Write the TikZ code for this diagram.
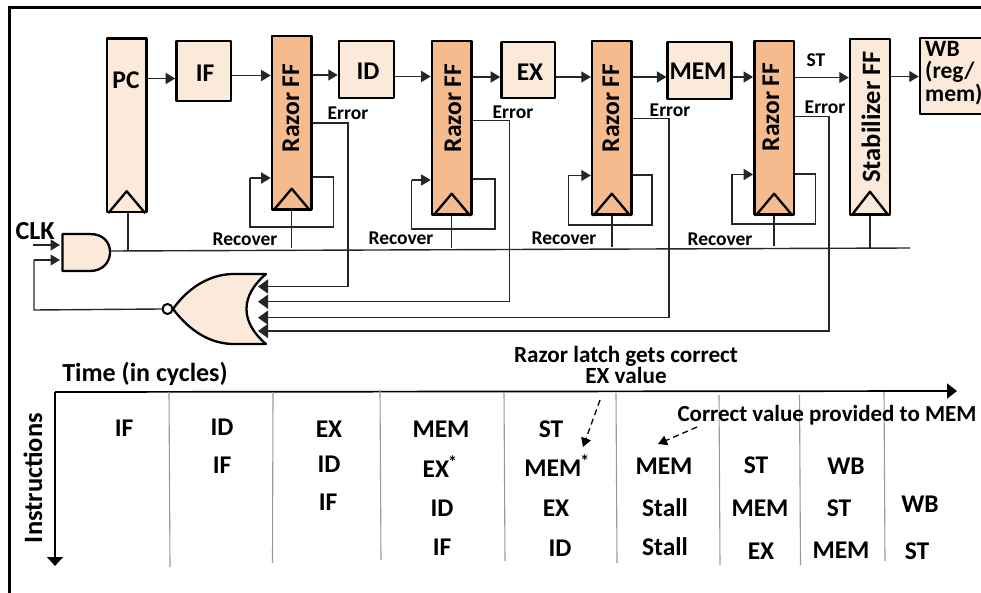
\documentclass[tikz,border=0pt]{standalone}
\usepackage{fontspec}
\setmainfont{Carlito}
\usetikzlibrary{arrows.meta}
\definecolor{lightfill}{HTML}{FBE9D9}
\definecolor{darkfill}{HTML}{F4BC8E}
\definecolor{wirecol}{HTML}{262626}
\definecolor{gridcol}{HTML}{9A9A9A}
\tikzset{
  x=1pt,y=-1pt,
  boxed/.style={draw=black,line width=2.5pt,inner sep=0pt,line join=round},
  stage/.style={boxed,fill=lightfill},
  razor/.style={boxed,fill=darkfill},
  wire/.style={draw=wirecol,line width=1.4pt},
  tipped/.style={wire,-{Triangle[length=9.5pt,width=11pt]}},
  bigtipped/.style={wire,-{Triangle[length=10pt,width=14pt]}},
  bigtext/.style={font=\fontsize{25.5}{30}\selectfont\bfseries,inner sep=0pt,text=black},
  midtext/.style={font=\fontsize{26.5}{31}\selectfont\bfseries,inner sep=0pt,text=black},
  cell/.style={font=\fontsize{25.5}{30}\selectfont\bfseries,inner sep=0pt,text=black},
  smalltext/.style={font=\fontsize{19.5}{23}\selectfont\bfseries,inner sep=0pt,text=black},
  gridline/.style={draw=gridcol,line width=1.1pt},
  tri/.style={draw=black,line width=2.3pt,line join=round},
  gate/.style={draw=black,line width=2.3pt,fill=lightfill,line join=round},
  hint/.style={draw=black,line width=1.3pt,dashed,dash pattern=on 6pt off 4pt,-{Triangle[length=9pt,width=10pt]}},
  axis/.style={draw=black,line width=1.7pt},
}
\newcommand{\clocktri}[2]{\draw[tri] ([xshift=2.5pt]#1.south west) -- ([yshift=#2pt]#1.south) -- ([xshift=-2.5pt]#1.south east);}
\newcommand{\starmark}{\kern-1pt\textsuperscript{*}}
\begin{document}
\begin{tikzpicture}
\useasboundingbox (0,0) rectangle (981,593);
% frame
\draw[black,line width=3pt] (981,8) -- (9,8) -- (9,593);
% stages
\node[stage,minimum width=39.5pt,minimum height=173.5pt] (pc) at (126.7,125.2) {};
\node[stage,minimum width=54.5pt,minimum height=60pt] (if) at (203.7,71) {};
\node[razor,minimum width=39.5pt,minimum height=173.5pt] (r1) at (291.7,122.7) {};
\node[stage,minimum width=55pt,minimum height=57pt] (id) at (366.5,69.5) {};
\node[razor,minimum width=39.5pt,minimum height=173.5pt] (r2) at (451.7,127.7) {};
\node[stage,minimum width=53.5pt,minimum height=56pt] (ex) at (528.2,70) {};
\node[razor,minimum width=39.5pt,minimum height=173.5pt] (r3) at (611.8,127.7) {};
\node[stage,minimum width=63.8pt,minimum height=57pt] (mem) at (699.6,70.5) {};
\node[razor,minimum width=39.5pt,minimum height=173.5pt] (r4) at (774.1,127.7) {};
\node[stage,minimum width=40pt,minimum height=175.5pt] (stab) at (870,126.7) {};
\node[stage,minimum width=70pt,minimum height=76pt] (wb) at (955,76) {};
% clock triangles
\clocktri{pc}{22}
\clocktri{r1}{22}
\clocktri{r2}{22}
\clocktri{r3}{22}
\clocktri{r4}{22}
\clocktri{stab}{24}
% stage labels
\node[bigtext] (pclbl) at (126,80) {PC};
\node[bigtext] (iflbl) at (205,73) {IF};
\node[bigtext] (idlbl) at (368,71) {ID};
\node[bigtext] (exlbl) at (530,72) {EX};
\node[bigtext] (memlbl) at (698,71) {MEM};
\node[bigtext,rotate=90] (r1lbl) at (291,108) {Razor FF};
\node[bigtext,rotate=90] (r2lbl) at (453,108) {Razor FF};
\node[bigtext,rotate=90] (r3lbl) at (611,108) {Razor FF};
\node[bigtext,rotate=90] (r4lbl) at (771,107) {Razor FF};
\node[midtext,rotate=90] (stablbl) at (871,117) {Stabilizer FF};
\node[align=left,anchor=north west,inner sep=0pt,font=\fontsize{23.5}{22.5}\selectfont\bfseries] (wblbl) at (925,41) {WB\\(reg/\\mem)};
% pipeline arrows
\draw[tipped] (pc.east |- 0,78.5) -- (if.west |- 0,78.5);
\draw[tipped] (if.east |- 0,75.5) -- (r1.west |- 0,75.5);
\draw[tipped] (r1.east |- 0,75) -- (id.west |- 0,75);
\draw[tipped] (id.east |- 0,76.5) -- (r2.west |- 0,76.5);
\draw[tipped] (r2.east |- 0,77) -- (ex.west |- 0,77);
\draw[tipped] (ex.east |- 0,77) -- (r3.west |- 0,77);
\draw[tipped] (r3.east |- 0,77) -- (mem.west |- 0,77);
\draw[tipped] (mem.east |- 0,77) -- (r4.west |- 0,77);
\draw[tipped] (r4.east |- 0,77.5) -- (stab.west |- 0,77.5);
\draw[tipped] (stab.east |- 0,76.5) -- (wb.west |- 0,76.5);
% clock network
\coordinate (clkend) at (910,248);
\coordinate (clktap) at (128,251);
\draw[gate] (62.5,234) -- (90,234) .. controls (103,234) and (110,242) .. (110,252) .. controls (110,262) and (103,271) .. (90,271) -- (62.5,271) -- cycle;
\coordinate (andout) at (110,251);
\coordinate (andclk) at (60,245);
\coordinate (andfb) at (60,260);
\draw[wire] (andout) -- (clkend);
\draw[wire] (pc.south -| clktap) -- (clktap);
\draw[wire] (r1.south) -- (r1.south |- 0,248);
\draw[wire] (r2.south) -- (r2.south |- 0,248);
\draw[wire] (r3.south) -- (r3.south |- 0,247);
\draw[wire] (r4.south) -- (r4.south |- 0,246);
\draw[wire] (stab.south) -- (stab.south |- 0,248);
\coordinate (clkstart) at (33,245);
\draw[tipped] (clkstart) -- (andclk);
% recover loops
\draw[wire] (r1.east |- 0,177) -- (333.5,177) -- (333.5,227) -- (250,227) -- (250,178);
\draw[tipped] (250,178) -- (r1.west |- 0,178);
\draw[wire] (r2.east |- 0,179) -- (495,179) -- (495,229) -- (411.7,229) -- (411.7,180);
\draw[tipped] (411.7,180) -- (r2.west |- 0,180);
\draw[wire] (r3.east |- 0,175) -- (652,175) -- (652,225) -- (568.5,225) -- (568.5,175.5);
\draw[tipped] (568.5,175.5) -- (r3.west |- 0,175.5);
\draw[wire] (r4.east |- 0,174) -- (815.5,174) -- (815.5,224) -- (732,224) -- (732,174.5);
\draw[tipped] (732,174.5) -- (r4.west |- 0,174.5);
% NOR gate
\draw[gate] (266,274) -- (232,274) .. controls (205,275) and (185,292) .. (173,309) .. controls (186,326) and (205,343) .. (232,344) -- (266,344) .. controls (240,322) and (240,296) .. (266,274) -- cycle;
\node[circle,draw=black,line width=2pt,fill=white,minimum size=10pt,inner sep=0pt] (bub) at (167.5,309) {};
\coordinate (fbcorner) at (34,310);
\draw[wire] (bub.west) -- (fbcorner) -- (34,260);
\draw[tipped] (34,260) -- (andfb);
% error lines
\coordinate (nor1) at (258,286.5);
\coordinate (nor2) at (258,301.7);
\coordinate (nor3) at (258,317.7);
\coordinate (nor4) at (258,331);
\draw[bigtipped] (r1.east |- 0,123) -- (348,123) -- (348,286.5) -- (nor1);
\draw[bigtipped] (r2.east |- 0,120.5) -- (509.3,120.5) -- (509.3,301.7) -- (nor2);
\draw[bigtipped] (r3.east |- 0,118.5) -- (669,118.5) -- (669,317.7) -- (nor3);
\draw[bigtipped] (r4.east |- 0,116.5) -- (829,116.5) -- (829,331) -- (nor4);
% small labels
\node[smalltext] (e1) at (348,113) {Error};
\node[smalltext] (e2) at (513,112) {Error};
\node[smalltext] (e3) at (670,110) {Error};
\node[smalltext] (e4) at (825,107) {Error};
\node[smalltext] (st) at (816,60) {ST};
\node[smalltext] (rc1) at (245,239) {Recover};
\node[smalltext] (rc2) at (401,238) {Recover};
\node[smalltext] (rc3) at (564,238) {Recover};
\node[smalltext] (rc4) at (720,239) {Recover};
\node[font=\fontsize{26}{30}\selectfont\bfseries,inner sep=0pt] (clk) at (35,231) {CLK};
% timing table
\coordinate (origin) at (55,392);
\coordinate (timeend) at (957,391);
\coordinate (instend) at (55,566);
\draw[axis,-{Triangle[length=10pt,width=15pt]}] (origin) -- (timeend);
\draw[axis,-{Triangle[length=9pt,width=16pt]}] (origin) -- (instend);
\draw[gridline] (169,392) -- (170,567);
\draw[gridline] (273,392) -- (272.5,563);
\draw[gridline] (380,390) -- (381,560);
\draw[gridline] (504,392) -- (505,561);
\draw[gridline] (616,393) -- (617,563);
\draw[gridline] (719,395) -- (720,565);
\draw[gridline] (799.5,395) -- (800.5,565);
\draw[gridline] (884,392) -- (885,561);
\node[font=\fontsize{26}{30}\selectfont\bfseries,inner sep=0pt] (timelbl) at (145,374) {Time (in cycles)};
\node[font=\fontsize{26.5}{30}\selectfont\bfseries,inner sep=0pt,rotate=90] (instlbl) at (33,478) {Instructions};
\node[font=\fontsize{23.2}{21}\selectfont\bfseries,inner sep=0pt,align=center] (razornote) at (626,364.5) {Razor latch gets correct\\EX value};
\node[font=\fontsize{23}{27}\selectfont\bfseries,inner sep=0pt] (correctnote) at (827,415) {Correct value provided to MEM};
\coordinate (h1s) at (600,400);
\coordinate (h1e) at (583,447);
\coordinate (h2s) at (697,427);
\coordinate (h2e) at (658,444);
\draw[hint] (h1s) -- (h1e);
\draw[hint] (h2s) -- (h2e);
\node[cell] (c11) at (124,428) {IF};
\node[cell] (c21) at (222,427) {ID};
\node[cell] (c22) at (222,465) {IF};
\node[cell] (c31) at (329,429) {EX};
\node[cell] (c32) at (329,464) {ID};
\node[cell] (c33) at (328,502) {IF};
\node[cell] (c41) at (441,429) {MEM};
\node[cell] (c42) at (440,467) {EX\starmark};
\node[cell] (c43) at (442,508) {ID};
\node[cell] (c44) at (442,547) {IF};
\node[cell] (c51) at (551,429) {ST};
\node[cell] (c52) at (557,466) {MEM\starmark};
\node[cell] (c53) at (556,508) {EX};
\node[cell] (c54) at (560,548) {ID};
\node[cell] (c61) at (664,466) {MEM};
\node[cell] (c62) at (665,508) {Stall};
\node[cell] (c63) at (665,547) {Stall};
\node[cell] (c71) at (756,465) {ST};
\node[cell] (c72) at (760,508) {MEM};
\node[cell] (c73) at (761,551) {EX};
\node[cell] (c81) at (846,466) {WB};
\node[cell] (c82) at (839,508) {ST};
\node[cell] (c83) at (841,550) {MEM};
\node[cell] (c91) at (920,504) {WB};
\node[cell] (c92) at (917,551) {ST};
\end{tikzpicture}
\end{document}
